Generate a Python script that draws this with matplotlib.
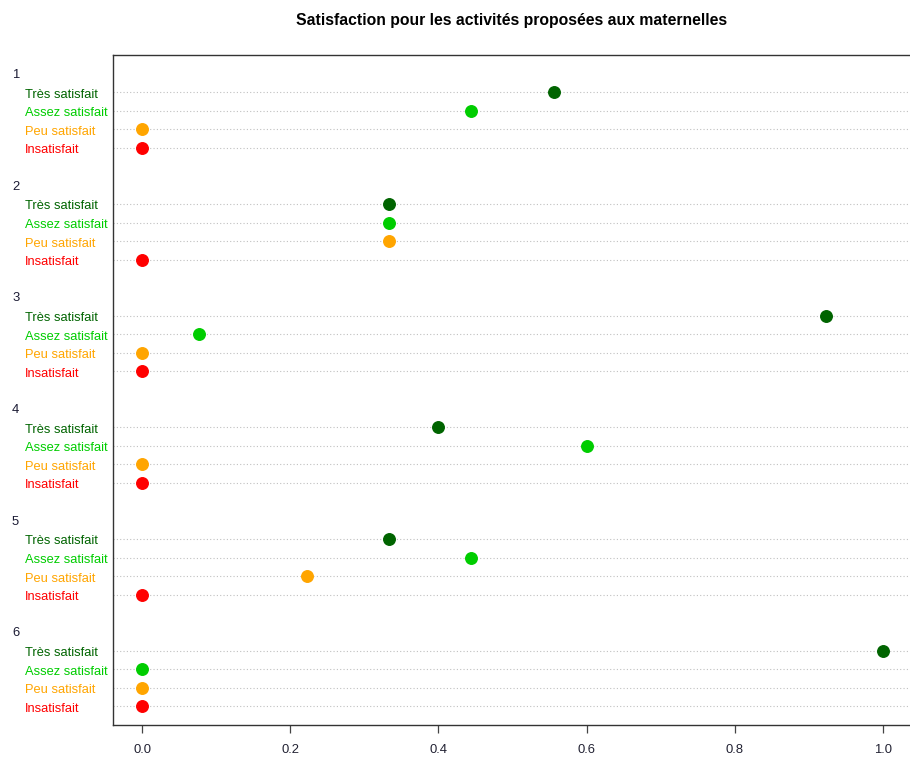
import numpy as np
import matplotlib
matplotlib.use('Agg')
import matplotlib.pyplot as plt
from matplotlib.transforms import blended_transform_factory

plt.rcParams['font.family'] = ['Liberation Sans', 'DejaVu Sans']

# data
groupes = ['1', '2', '3', '4', '5', '6']
niveaux = ['Très satisfait', 'Assez satisfait', 'Peu satisfait', 'Insatisfait']
couleurs = ['#006400', '#00CD00', '#FFA500', '#FF0000']
tres = [5/9, 1/3, 12/13, 0.4, 1/3, 1.0]
assez = [4/9, 1/3, 1/13, 0.6, 4/9, 0.0]
peu = [0.0, 1/3, 0.0, 0.0, 2/9, 0.0]
insat = [0.0, 0.0, 0.0, 0.0, 0.0, 0.0]
valeurs = [tres, assez, peu, insat]

fig = plt.figure(figsize=(9.1, 7.6), dpi=100)
ax = fig.add_axes([112.5/910, 35/760, 800/910, 670/760])
trans = blended_transform_factory(fig.transFigure, ax.transData)

n_g = len(groupes)
n_r = len(niveaux)
top = n_g * n_r + 2 * (n_g - 1)
for g, nom in enumerate(groupes):
    base = top - g * (n_r + 2)
    ax.text(12/910, base + 1, nom, transform=trans, ha='left', va='center_baseline',
            fontsize=9.4, color='#1a1a33')
    for r in range(n_r):
        y = base - r
        ax.axhline(y, color='#c0c0c0', lw=0.8, ls=(0, (1, 2)), zorder=1)
        ax.plot(valeurs[r][g], y, 'o', color=couleurs[r], ms=8.3, zorder=3)
        ax.text(25/910, y - 0.05, niveaux[r], transform=trans, ha='left', va='center_baseline',
                fontsize=9.3, color=couleurs[r])

ax.set_xlim(-0.04, 1.04)
ax.set_ylim(0, top + 2)
ax.set_yticks([])
ax.set_xticks([0, 0.2, 0.4, 0.6, 0.8, 1.0])
ax.set_xticklabels(['0.0', '0.2', '0.4', '0.6', '0.8', '1.0'])
ax.tick_params(axis='x', length=6, width=0.9, color='#444444', labelsize=9.4,
               labelcolor='#222233', pad=8)
for s in ax.spines.values():
    s.set_color('#333333')
    s.set_linewidth(1.0)

fig.text(512/910, 1 - 20/760, 'Satisfaction pour les activités proposées aux maternelles',
         ha='center', va='center', fontsize=11.3, fontweight='bold')

fig.savefig('out.png', dpi=100)
